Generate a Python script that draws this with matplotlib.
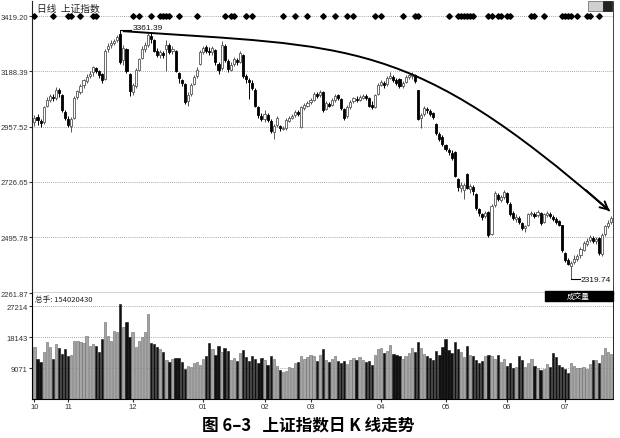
import numpy as np
import matplotlib
matplotlib.use('Agg')
import matplotlib.pyplot as plt
from matplotlib.patches import Rectangle, PathPatch
from matplotlib.path import Path

# 上证指数 2009-10 ~ 2010-07 日K线
month_labels = ['10', '11', '12', '01', '02', '03', '04', '05', '06', '07']
month_days = [11, 21, 23, 20, 15, 23, 21, 20, 19, 16]

opens = [
    2975, 2998, 2982, 2975, 3045, 3070, 3082, 3078, 3110, 3088, 3020,  # 10
    2990, 2960, 2995, 3080, 3102, 3130, 3148, 3168, 3185, 3200, 3188, 3178, 3155, 3280, 3296, 3305, 3318, 3345, 3235, 3280, 3175,  # 11
    3100, 3128, 3195, 3245, 3280, 3300, 3335, 3318, 3272, 3255, 3265, 3280, 3298, 3272, 3275, 3180, 3150, 3135, 3062, 3092, 3135, 3168, 3220,  # 12
    3268, 3288, 3272, 3270, 3278, 3220, 3200, 3295, 3232, 3195, 3218, 3235, 3228, 3258, 3168, 3150, 3140, 3112, 3040, 3000,  # 01
    2988, 3005, 2982, 2935, 2962, 2958, 2948, 2950, 2982, 2995, 3005, 3018, 2955, 3035, 3045,  # 02
    3058, 3070, 3092, 3088, 3102, 3030, 3052, 3048, 3068, 3088, 3072, 3030, 3000, 3038, 3062, 3072, 3070, 3078, 3085, 3075, 3048, 3040, 3092,  # 03
    3130, 3140, 3135, 3162, 3165, 3150, 3155, 3128, 3145, 3165, 3168, 3172, 3108, 2995, 3008, 3032, 3022, 3012, 2968, 2928, 2915,  # 04
    2880, 2860, 2848, 2852, 2738, 2700, 2692, 2758, 2695, 2705, 2675, 2612, 2590, 2582, 2600, 2510, 2628, 2672, 2650, 2662,  # 05
    2680, 2635, 2595, 2572, 2575, 2555, 2532, 2545, 2590, 2592, 2588, 2598, 2560, 2588, 2594, 2580, 2572, 2562, 2545,  # 06
    2430, 2398, 2375, 2392, 2405, 2420, 2442, 2468, 2482, 2490, 2480, 2490, 2425, 2508, 2542, 2558,  # 07
]
highs = [
    3005, 3010, 2990, 3045, 3082, 3092, 3095, 3122, 3120, 3092, 3028,
    3000, 2998, 3085, 3112, 3135, 3158, 3175, 3190, 3212, 3208, 3195, 3182, 3282, 3305, 3318, 3325, 3340, 3361.39, 3298, 3285, 3180,
    3140, 3200, 3245, 3292, 3310, 3350, 3352, 3325, 3285, 3278, 3275, 3318, 3305, 3292, 3278, 3185, 3155, 3140, 3100, 3138, 3172, 3205, 3278,
    3295, 3298, 3288, 3292, 3280, 3225, 3315, 3302, 3240, 3228, 3250, 3245, 3273, 3262, 3178, 3160, 3150, 3118, 3045, 3015,
    3025, 3012, 2990, 2968, 3002, 2962, 2958, 2992, 3002, 3010, 3028, 3025, 3042, 3055, 3062,
    3075, 3102, 3100, 3110, 3106, 3062, 3060, 3078, 3092, 3095, 3078, 3035, 3048, 3068, 3082, 3085, 3088, 3092, 3094, 3080, 3062, 3095, 3138,
    3150, 3148, 3168, 3185, 3172, 3160, 3160, 3148, 3172, 3178, 3186, 3178, 3110, 3015, 3042, 3040, 3030, 3020, 2972, 2935, 2920,
    2885, 2868, 2860, 2856, 2742, 2725, 2720, 2762, 2718, 2712, 2678, 2618, 2598, 2605, 2605, 2632, 2688, 2680, 2672, 2692,
    2684, 2640, 2605, 2590, 2585, 2560, 2548, 2598, 2605, 2600, 2608, 2602, 2598, 2604, 2600, 2588, 2580, 2568, 2548,
    2432, 2410, 2395, 2422, 2425, 2452, 2478, 2492, 2505, 2500, 2495, 2494, 2512, 2548, 2565, 2585,
]
lows = [
    2960, 2965, 2955, 2970, 3038, 3058, 3062, 3070, 3080, 3018, 2985,
    2955, 2935, 2990, 3072, 3095, 3120, 3140, 3160, 3170, 3180, 3160, 3140, 3150, 3268, 3285, 3298, 3310, 3220, 3215, 3180, 3085,
    3090, 3120, 3188, 3240, 3268, 3290, 3305, 3268, 3248, 3245, 3242, 3190, 3260, 3262, 3185, 3140, 3128, 3050, 3045, 3085, 3130, 3160, 3215,
    3260, 3265, 3255, 3258, 3215, 3175, 3195, 3228, 3185, 3188, 3210, 3215, 3222, 3162, 3140, 3072, 3110, 3040, 2995, 2980,
    2978, 2975, 2930, 2905, 2955, 2940, 2942, 2945, 2975, 2988, 2998, 3002, 2950, 3028, 3040,
    3052, 3065, 3075, 3082, 3020, 3025, 3038, 3042, 3060, 3068, 3028, 2985, 2995, 3030, 3055, 3060, 3065, 3072, 3070, 3040, 3030, 3035, 3088,
    3125, 3120, 3128, 3155, 3145, 3132, 3118, 3120, 3140, 3158, 3158, 3140, 2985, 2950, 3000, 3015, 3000, 2988, 2922, 2895, 2878,
    2855, 2838, 2818, 2745, 2690, 2685, 2655, 2695, 2680, 2670, 2610, 2585, 2568, 2575, 2495, 2505, 2620, 2645, 2640, 2655,
    2632, 2585, 2565, 2558, 2550, 2525, 2515, 2540, 2582, 2575, 2580, 2548, 2555, 2580, 2575, 2562, 2552, 2540, 2435,
    2392, 2378, 2319.74, 2385, 2395, 2410, 2438, 2460, 2475, 2470, 2465, 2420, 2415, 2502, 2535, 2550,
]
closes = [
    2995, 2985, 2972, 3040, 3068, 3085, 3075, 3112, 3098, 3025, 2995,
    2965, 2990, 3078, 3105, 3128, 3150, 3165, 3178, 3205, 3190, 3172, 3150, 3275, 3295, 3308, 3315, 3330, 3228, 3285, 3188, 3105,
    3130, 3195, 3240, 3282, 3300, 3338, 3322, 3275, 3258, 3268, 3255, 3300, 3270, 3282, 3190, 3160, 3138, 3058, 3090, 3130, 3165, 3195, 3270,
    3285, 3275, 3268, 3285, 3225, 3192, 3300, 3235, 3198, 3215, 3238, 3225, 3265, 3170, 3155, 3145, 3120, 3045, 3005, 2990,
    3010, 2985, 2940, 2960, 2995, 2950, 2952, 2985, 2995, 3002, 3020, 3010, 3038, 3048, 3055,
    3068, 3095, 3085, 3100, 3025, 3055, 3045, 3070, 3085, 3078, 3035, 2995, 3040, 3060, 3075, 3068, 3082, 3086, 3078, 3045, 3038, 3090, 3132,
    3142, 3130, 3160, 3168, 3152, 3140, 3125, 3140, 3165, 3172, 3175, 3148, 2990, 3005, 3035, 3025, 3010, 2998, 2930, 2905, 2885,
    2865, 2850, 2828, 2752, 2705, 2715, 2712, 2700, 2710, 2690, 2615, 2595, 2578, 2595, 2505, 2625, 2680, 2655, 2665, 2685,
    2640, 2592, 2575, 2580, 2560, 2535, 2540, 2592, 2595, 2585, 2600, 2555, 2590, 2596, 2582, 2570, 2560, 2548, 2440,
    2400, 2385, 2388, 2405, 2418, 2445, 2470, 2480, 2495, 2478, 2488, 2430, 2505, 2540, 2555, 2575,
]
volumes = [
    15200, 11700, 10800, 13750, 16700, 15200, 11700, 16100, 15000, 13200, 14500,
    12500, 12800, 16900, 17000, 16800, 16500, 18400, 15400, 16100, 15400, 13900, 17500, 22500, 18400, 17000, 19900, 19500, 27800, 21000, 22500, 18000,
    19500, 15200, 17000, 18000, 19500, 24900, 16500, 16000, 15200, 14500, 13700, 11300, 10800, 11700, 12000, 11900, 10800, 8800, 9700, 9500, 10500, 10800, 10000,
    11700, 12500, 16300, 14500, 13000, 15500, 13700, 15000, 14000, 11500, 12000, 11000, 13500, 14200, 12300, 11000, 12500, 11800, 10500, 12000,
    11500, 10000, 12500, 11800, 9800, 8500, 7800, 8200, 9500, 9000, 10500, 10800, 12500, 11800, 12200,
    13000, 12500, 11000, 12800, 14500, 11500, 10800, 11800, 12500, 11200, 10500, 11000, 10200, 11500, 12000, 11300, 12300, 11500, 10800, 11200, 10000, 13000, 14500,
    14800, 13500, 14000, 15800, 13200, 12800, 12500, 11800, 12700, 13500, 15000, 13800, 16700, 14800, 13200, 12600, 12000, 11500, 14000, 13000, 15200,
    17500, 14200, 13500, 16700, 14700, 13800, 12400, 15600, 13000, 12600, 11400, 10500, 11200, 12700, 12800, 12500, 11700, 12900, 10900, 11700,
    9800, 10500, 9200, 9500, 12500, 11400, 9500, 10500, 11800, 9800, 9200, 8600, 8900, 10100, 9300, 13600, 12300, 10000, 9300,
    8800, 7500, 10500, 9800, 9200, 9100, 9500, 8700, 10100, 11300, 11400, 10400, 13000, 14800, 13700, 13200,
]

price_ticks = [3419.20, 3188.39, 2957.52, 2726.65, 2495.78, 2261.87]
price_tick_labels = ['3419.20', '3188.39', '2957.52', '2726.65', '2495.78', '2261.87']
vol_ticks = [9071, 18143, 27214]

# 顶部信号点 (交易日序号)
signal_days = [0, 6, 11, 12, 15, 19, 20, 32, 34, 38, 41, 42, 43, 44, 47, 53, 62, 64, 65, 69, 71,
               81, 85, 89, 94, 98, 102, 104, 111, 113, 120, 124, 125, 135, 138, 139, 140, 141, 142,
               143, 148, 149, 151, 152, 154, 155, 162, 163, 166, 172, 173, 174, 175, 177, 180, 181, 184]

# 手绘下降趋势线: 三次贝塞尔曲线控制点 (序号, 点位)
trend_idx = [28.8, 103.7, 122.3, 187.5]
trend_val = [3356, 3290, 3331, 2605]

cjk = ['Noto Sans CJK SC', 'DejaVu Sans']
plt.rcParams['font.family'] = ['Liberation Sans', 'DejaVu Sans']

o = np.array(opens, dtype=float)
h = np.array(highs, dtype=float)
l = np.array(lows, dtype=float)
c = np.array(closes, dtype=float)
v = np.array(volumes, dtype=float)
x = np.arange(len(c))
up = c >= o
month_starts = np.concatenate([[0], np.cumsum(month_days)[:-1]])

W, H = 620, 439
fig = plt.figure(figsize=(W / 100, H / 100), dpi=100)


def box(left, top, right, bottom):
    return [left / W, 1 - bottom / H, (right - left) / W, (bottom - top) / H]


ax = fig.add_axes(box(32, 2, 613, 294))
axv = fig.add_axes(box(32, 294, 613, 400), sharex=ax)

# 价格网格线
for val in price_ticks[:-1]:
    ax.axhline(val, color='#8c8c8c', lw=0.6, ls=(0, (1, 1.5)), zorder=1)

# K线
ax.vlines(x, l, h, colors=np.where(up, '#555555', 'black'), lw=0.7, zorder=2)
ax.bar(x, np.maximum(np.abs(c - o), 1.5), bottom=np.minimum(o, c), width=0.68,
       color=np.where(up, 'white', 'black'), edgecolor=np.where(up, '#555555', 'black'),
       linewidth=0.6, zorder=3)

# 信号点
ax.plot(signal_days, [price_ticks[0]] * len(signal_days), 'D', ms=2.8, color='black', zorder=4)

# 趋势线 + 箭头
verts = list(zip(trend_idx, trend_val))
curve = Path(verts, [Path.MOVETO, Path.CURVE4, Path.CURVE4, Path.CURVE4])
ax.add_patch(PathPatch(curve, facecolor='none', edgecolor='black', lw=1.4, zorder=5))
tail = (trend_idx[-1] - 0.12 * (trend_idx[-1] - trend_idx[-2]),
        trend_val[-1] - 0.12 * (trend_val[-1] - trend_val[-2]))
ax.annotate('', xy=(trend_idx[-1], trend_val[-1]), xytext=tail,
            arrowprops=dict(arrowstyle='->', color='black', lw=1.4, mutation_scale=14,
                            shrinkA=0, shrinkB=0), zorder=5)

# 最高点 / 最低点标注
i_hi = int(np.argmax(h))
ax.plot([i_hi, i_hi + 3.6], [h[i_hi], h[i_hi]], color='black', lw=0.8, zorder=5)
ax.text(i_hi + 3.9, h[i_hi] + 8, f'{h[i_hi]:.2f}', fontsize=6, va='center', color='#111')
i_lo = int(np.argmin(l))
ax.plot([i_lo, i_lo + 2.8], [l[i_lo], l[i_lo]], color='black', lw=0.8, zorder=5)
ax.text(i_lo + 3.1, l[i_lo], f'{l[i_lo]:.2f}', fontsize=6, va='center', color='#111')

ax.text(0.009, 0.978, '日线  上证指数', transform=ax.transAxes, fontsize=7, family=cjk,
        va='center', color='#222')

ax.set_ylim(2261.87, 3481.9)
ax.set_yticks(price_ticks)
ax.set_yticklabels(price_tick_labels)
ax.tick_params(axis='y', labelsize=5.5, length=2, pad=1, colors='#333')
ax.tick_params(axis='x', bottom=False, labelbottom=False)
ax.set_xlim(-0.8, 188.6)
ax.spines['top'].set_visible(False)
for s in ['left', 'right', 'bottom']:
    ax.spines[s].set_color('#222')
ax.spines['bottom'].set_linewidth(1.0)
ax.spines['right'].set_linewidth(0.6)

# 成交量
for val in vol_ticks:
    axv.axhline(val, color='#8c8c8c', lw=0.6, ls=(0, (1, 1.5)), zorder=1)
axv.bar(x, v, width=0.75, color=np.where(up, '#a5a5a5', '#111111'),
        edgecolor=np.where(up, '#6a6a6a', '#111111'), linewidth=0.4, zorder=2)
axv.set_ylim(0, 31020)
axv.set_yticks(vol_ticks)
axv.set_yticklabels([str(t) for t in vol_ticks])
axv.tick_params(axis='y', labelsize=5.5, length=2, pad=1, colors='#333')
axv.set_xticks(month_starts)
axv.set_xticklabels(month_labels)
axv.tick_params(axis='x', labelsize=5.5, length=2, pad=1, colors='#333')
axv.spines['top'].set_visible(False)
axv.spines['right'].set_linewidth(0.6)

axv.text(0.005, 0.94, '总手: 154020430', transform=axv.transAxes, fontsize=5.5,
         family=cjk, va='center', color='#222')
axv.add_patch(Rectangle((0.883, 0.925), 0.117, 0.095, transform=axv.transAxes,
                        color='black', clip_on=False, zorder=6))
axv.text(0.94, 0.972, '成交量', transform=axv.transAxes, fontsize=5.5, family=cjk,
         color='white', ha='center', va='center', zorder=7)

# 右上角小图标
fig.add_artist(Rectangle((588 / W, 1 - 12 / H), 15 / W, 10 / H, transform=fig.transFigure,
                         facecolor='#d0d0d0', edgecolor='#777777', lw=0.6))
fig.add_artist(Rectangle((603 / W, 1 - 12 / H), 9 / W, 10 / H, transform=fig.transFigure,
                         facecolor='#222222', edgecolor='#222222', lw=0.6))

fig.text(0.497, 1 - 425 / H, '图 6–3   上证指数日 K 线走势', ha='center', va='center',
         fontsize=12, fontweight='bold', family=cjk)

fig.savefig('out.png', dpi=100)
